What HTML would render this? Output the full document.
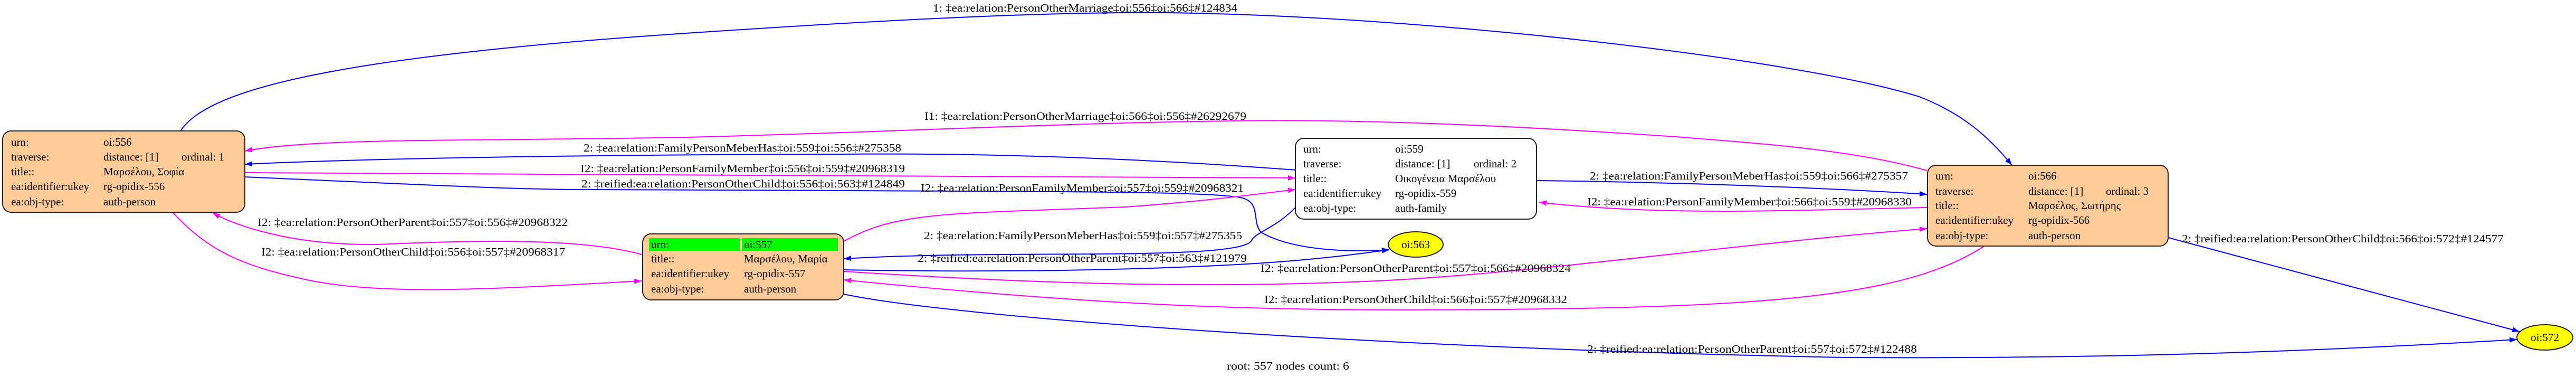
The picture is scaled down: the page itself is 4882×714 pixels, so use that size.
<!DOCTYPE html>
<html><head><meta charset="utf-8"><style>
html,body{margin:0;padding:0;background:#fff;}
svg{display:block;font-family:"Liberation Serif","DejaVu Serif",serif;}
text{font-size:21px;fill:#000;}
</style></head><body>
<svg width="4882" height="714" viewBox="0 0 4882 714" xmlns="http://www.w3.org/2000/svg">
<defs>
<marker id="ab" viewBox="0 0 14 10" refX="14" refY="5" markerWidth="14" markerHeight="10" markerUnits="userSpaceOnUse" orient="auto"><path d="M0,0 L14,5 L0,10 z" fill="#0000ff"/></marker>
<marker id="am" viewBox="0 0 14 10" refX="14" refY="5" markerWidth="14" markerHeight="10" markerUnits="userSpaceOnUse" orient="auto"><path d="M0,0 L14,5 L0,10 z" fill="#ff00ff"/></marker>
</defs>
<g fill="none" stroke-width="2">
<path stroke="#0000ff" marker-end="url(#ab)" d="M342,248 C390,175 600,110 1300,63 C1700,36 2000,22 2210,24 C2700,30 3400,110 3637,183 C3720,215 3770,260 3813,313"/>
<path stroke="#ff00ff" marker-end="url(#am)" d="M3652,323 C3500,280 3300,270 3190,260 C2900,240 2600,225 2340,229 C2000,233 1700,250 1300,260 C900,268 600,260 464,286"/>
<path stroke="#0000ff" marker-end="url(#ab)" d="M2455,322 C2100,295 1800,290 1600,292 C1100,293 700,300 464,311"/>
<path stroke="#ff00ff" marker-end="url(#am)" d="M464,327 C1000,330 2000,335 2455,337"/>
<path stroke="#0000ff" marker-end="url(#ab)" d="M464,335 C800,350 1000,360 1122,359 L1600,361 C2000,363 2300,362 2355,375 C2390,385 2372,420 2390,440 C2450,475 2560,478 2633,473"/>
<path stroke="#ff00ff" marker-end="url(#am)" d="M1599,457 C1700,400 1800,405 2133,392 C2300,380 2400,365 2455,359"/>
<path stroke="#0000ff" marker-end="url(#ab)" d="M2455,393 C2420,430 2380,440 2372,455 C2360,485 2100,480 1900,482 C1750,483 1650,487 1599,490"/>
<path stroke="#0000ff" marker-end="url(#ab)" d="M1599,511 C1800,515 2100,515 2363,500 C2500,492 2580,480 2633,473"/>
<path stroke="#ff00ff" marker-end="url(#am)" d="M1599,514 C2000,540 2300,545 2587,533 C2900,520 3300,460 3652,433"/>
<path stroke="#ff00ff" marker-end="url(#am)" d="M3759,467 C3600,570 3300,585 2683,587 C2300,588 2000,570 1599,530"/>
<path stroke="#0000ff" marker-end="url(#ab)" d="M1599,557 C1800,600 2600,660 3500,677 C4000,680 4400,665 4770,643"/>
<path stroke="#0000ff" marker-end="url(#ab)" d="M2912,342 C3200,345 3500,358 3652,368"/>
<path stroke="#ff00ff" marker-end="url(#am)" d="M3652,393 C3400,398 3150,410 2917,383"/>
<path stroke="#0000ff" marker-end="url(#ab)" d="M4109,450 L4775,628"/>
<path stroke="#ff00ff" marker-end="url(#am)" d="M1216,482 C1100,450 900,455 714,463 C560,465 450,430 403,403"/>
<path stroke="#ff00ff" marker-end="url(#am)" d="M327,402 C390,470 450,500 560,525 C700,560 900,550 1216,532"/>
</g>
<g lengthAdjust="spacingAndGlyphs">
<text x="1768" y="22" textLength="577" lengthAdjust="spacingAndGlyphs">1: ‡ea:relation:PersonOtherMarriage‡oi:556‡oi:566‡#124834</text>
<text x="1752" y="227" textLength="610" lengthAdjust="spacingAndGlyphs">I1: ‡ea:relation:PersonOtherMarriage‡oi:566‡oi:556‡#26292679</text>
<text x="1106" y="287" textLength="602" lengthAdjust="spacingAndGlyphs">2: ‡ea:relation:FamilyPersonMeberHas‡oi:559‡oi:556‡#275358</text>
<text x="1100" y="326" textLength="615" lengthAdjust="spacingAndGlyphs">I2: ‡ea:relation:PersonFamilyMember‡oi:556‡oi:559‡#20968319</text>
<text x="1102" y="355" textLength="613" lengthAdjust="spacingAndGlyphs">2: ‡reified:ea:relation:PersonOtherChild‡oi:556‡oi:563‡#124849</text>
<text x="1745" y="363" textLength="612" lengthAdjust="spacingAndGlyphs">I2: ‡ea:relation:PersonFamilyMember‡oi:557‡oi:559‡#20968321</text>
<text x="1751" y="453" textLength="603" lengthAdjust="spacingAndGlyphs">2: ‡ea:relation:FamilyPersonMeberHas‡oi:559‡oi:557‡#275355</text>
<text x="1739" y="496" textLength="624" lengthAdjust="spacingAndGlyphs">2: ‡reified:ea:relation:PersonOtherParent‡oi:557‡oi:563‡#121979</text>
<text x="2389" y="515" textLength="588" lengthAdjust="spacingAndGlyphs">I2: ‡ea:relation:PersonOtherParent‡oi:557‡oi:566‡#20968324</text>
<text x="2396" y="574" textLength="574" lengthAdjust="spacingAndGlyphs">I2: ‡ea:relation:PersonOtherChild‡oi:566‡oi:557‡#20968332</text>
<text x="3008" y="668" textLength="625" lengthAdjust="spacingAndGlyphs">2: ‡reified:ea:relation:PersonOtherParent‡oi:557‡oi:572‡#122488</text>
<text x="3013" y="340" textLength="603" lengthAdjust="spacingAndGlyphs">2: ‡ea:relation:FamilyPersonMeberHas‡oi:559‡oi:566‡#275357</text>
<text x="3008" y="389" textLength="615" lengthAdjust="spacingAndGlyphs">I2: ‡ea:relation:PersonFamilyMember‡oi:566‡oi:559‡#20968330</text>
<text x="4135" y="459" textLength="610" lengthAdjust="spacingAndGlyphs">2: ‡reified:ea:relation:PersonOtherChild‡oi:566‡oi:572‡#124577</text>
<text x="488" y="428" textLength="588" lengthAdjust="spacingAndGlyphs">I2: ‡ea:relation:PersonOtherParent‡oi:557‡oi:556‡#20968322</text>
<text x="495" y="484" textLength="576" lengthAdjust="spacingAndGlyphs">I2: ‡ea:relation:PersonOtherChild‡oi:556‡oi:557‡#20968317</text>
<text x="2325" y="700" textLength="232" lengthAdjust="spacingAndGlyphs">root: 557 nodes count: 6</text>
</g>
<!-- node 556 -->
<rect x="5" y="248" width="459" height="154" rx="16" fill="#ffcc99" stroke="#222" stroke-width="2"/>
<text x="21" y="276">urn:</text><text x="196" y="276">oi:556</text>
<text x="21" y="304">traverse:</text><text x="196" y="304">distance: [1]</text><text x="344" y="304">ordinal: 1</text>
<text x="21" y="332">title::</text><text x="196" y="332">Μαρσέλου, Σοφία</text>
<text x="21" y="360">ea:identifier:ukey</text><text x="196" y="360">rg-opidix-556</text>
<text x="21" y="389">ea:obj-type:</text><text x="196" y="389">auth-person</text>
<!-- node 557 -->
<rect x="1218" y="443" width="381" height="125" rx="16" fill="#ffcc99" stroke="#222" stroke-width="2"/>
<rect x="1230" y="451" width="172" height="25" fill="#00ff00"/>
<rect x="1406" y="451" width="182" height="25" fill="#00ff00"/>
<text x="1234" y="470">urn:</text><text x="1410" y="470">oi:557</text>
<text x="1234" y="497">title::</text><text x="1410" y="497">Μαρσέλου, Μαρία</text>
<text x="1234" y="525">ea:identifier:ukey</text><text x="1410" y="525">rg-opidix-557</text>
<text x="1234" y="554">ea:obj-type:</text><text x="1410" y="554">auth-person</text>
<!-- node 559 -->
<rect x="2455" y="262" width="457" height="153" rx="16" fill="#ffffff" stroke="#222" stroke-width="2"/>
<text x="2470" y="289">urn:</text><text x="2644" y="289">oi:559</text>
<text x="2470" y="317">traverse:</text><text x="2644" y="317">distance: [1]</text><text x="2793" y="317">ordinal: 2</text>
<text x="2470" y="345">title::</text><text x="2644" y="345">Οικογένεια Μαρσέλου</text>
<text x="2470" y="373">ea:identifier:ukey</text><text x="2644" y="373">rg-opidix-559</text>
<text x="2470" y="401">ea:obj-type:</text><text x="2644" y="401">auth-family</text>
<!-- node 566 -->
<rect x="3653" y="313" width="456" height="153" rx="16" fill="#ffcc99" stroke="#222" stroke-width="2"/>
<text x="3668" y="340">urn:</text><text x="3844" y="340">oi:566</text>
<text x="3668" y="369">traverse:</text><text x="3844" y="369">distance: [1]</text><text x="3991" y="369">ordinal: 3</text>
<text x="3668" y="396">title::</text><text x="3844" y="396">Μαρσέλος, Σωτήρης</text>
<text x="3668" y="424">ea:identifier:ukey</text><text x="3844" y="424">rg-opidix-566</text>
<text x="3668" y="453">ea:obj-type:</text><text x="3844" y="453">auth-person</text>
<!-- ellipses -->
<ellipse cx="2683" cy="463" rx="52" ry="24" fill="#ffff00" stroke="#222" stroke-width="2"/>
<text x="2683" y="470" text-anchor="middle">oi:563</text>
<ellipse cx="4823" cy="639" rx="53" ry="24" fill="#ffff00" stroke="#222" stroke-width="2"/>
<text x="4823" y="646" text-anchor="middle">oi:572</text>
</svg>
</body></html>
